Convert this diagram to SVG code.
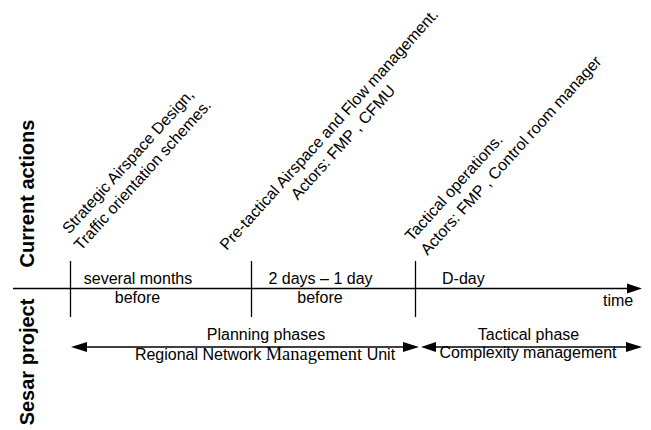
<svg xmlns="http://www.w3.org/2000/svg" width="651" height="430" viewBox="0 0 651 430">
<style>
text{font-family:"Liberation Sans",Arial,sans-serif;font-size:16px;fill:#000}
.c{text-anchor:middle}
.b{font-weight:bold;font-size:20px}
.ln{stroke:#000;stroke-width:1.3;fill:none}
.ah{fill:#000;stroke:none}
.tm{font-family:"Liberation Serif","Times New Roman",serif;font-size:18.5px}
</style>
<rect width="651" height="430" fill="#fff"/>
<g id="connectors">
<line class="ln" x1="13" y1="288.5" x2="628" y2="288.5"/>
<polygon class="ah" points="642,288.5 627,283.5 627,293.5"/>
<line class="ln" x1="70.5" y1="261" x2="70.5" y2="317"/>
<line class="ln" x1="251.5" y1="261" x2="251.5" y2="317"/>
<line class="ln" x1="415.5" y1="261" x2="415.5" y2="317"/>
<line class="ln" x1="86" y1="347" x2="404" y2="347"/>
<polygon class="ah" points="71,347 87,342 87,352"/>
<polygon class="ah" points="419,347 403,342 403,352"/>
<line class="ln" x1="435" y1="347" x2="627" y2="347"/>
<polygon class="ah" points="421,347 436,342 436,352"/>
<polygon class="ah" points="642,347 626,342 626,352"/>
</g>
<g id="label-current"><text class="b c" transform="translate(34,193.5) rotate(-90)">Current actions</text></g>
<g id="label-sesar"><text class="b c" transform="translate(34,362) rotate(-90)">Sesar project</text></g>
<g id="strategic">
<text class="c" transform="translate(132,165) rotate(-48)">Strategic Airspace Design,</text>
<text class="c" transform="translate(146.5,178.5) rotate(-48)">Traffic orientation schemes.</text>
</g>
<g id="pretactical">
<text class="c" transform="translate(333,133) rotate(-48)">Pre-tactical Airspace and Flow management.</text>
<text class="c" transform="translate(347,146) rotate(-48)">Actors: FMP , CFMU</text>
</g>
<g id="tactical">
<text transform="translate(412,242) rotate(-48)">Tactical operations.</text>
<text transform="translate(427.5,256) rotate(-48)">Actors: FMP , Control room manager</text>
</g>
<g id="period-months">
<text class="c" x="138" y="283.5">several months</text>
<text class="c" x="137.5" y="302.5">before</text>
</g>
<g id="period-days">
<text class="c" x="320.5" y="283.5">2 days – 1 day</text>
<text class="c" x="320" y="302.5">before</text>
</g>
<g id="period-dday"><text x="442" y="284">D-day</text></g>
<g id="time-label"><text x="603" y="306">time</text></g>
<g id="planning">
<text class="c" x="266" y="340">Planning phases</text>
<text class="c" x="265" y="360">Regional Network <tspan class="tm">Management</tspan> Unit</text>
</g>
<g id="tactical-phase">
<text class="c" x="528.5" y="340">Tactical phase</text>
<text class="c" x="528" y="358">Complexity management</text>
</g>
</svg>
